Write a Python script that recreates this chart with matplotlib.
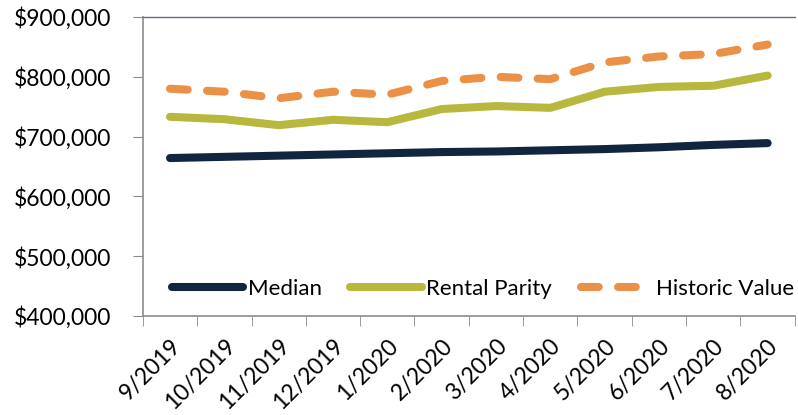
import matplotlib.pyplot as plt
from matplotlib.ticker import FuncFormatter
import numpy as np

months = ["9/2019", "10/2019", "11/2019", "12/2019", "1/2020", "2/2020",
          "3/2020", "4/2020", "5/2020", "6/2020", "7/2020", "8/2020"]
median = [664000, 666000, 668000, 670000, 672000, 674000,
          675000, 677000, 679000, 682000, 686000, 689000]
rental_parity = [733000, 729000, 719000, 728000, 724000, 746000,
                 751000, 748000, 775000, 783000, 785000, 802000]
historic_value = [780000, 775000, 764000, 775000, 770000, 793000,
                  800000, 796000, 824000, 834000, 838000, 854000]

plt.rcParams['font.family'] = ['Lato', 'DejaVu Sans']

fig = plt.figure(figsize=(7.98, 4.15), dpi=100)
ax = fig.add_axes([0.179, 0.239, 0.817, 0.72])

x = np.arange(len(months))
lw = 5.8
ax.plot(x, median, color="#12253F", lw=lw, solid_capstyle="round", label="Median")
ax.plot(x, rental_parity, color="#B8B83E", lw=lw, solid_capstyle="round", label="Rental Parity")
ax.plot(x, historic_value, color="#EB9147", lw=lw, dash_capstyle="round",
        dashes=(2.2, 2.4), label="Historic Value")

ax.set_xlim(-0.5, len(months) - 0.5)
ax.set_ylim(400000, 900000)
ax.set_yticks(np.arange(400000, 900001, 100000))
ax.yaxis.set_major_formatter(FuncFormatter(lambda v, p: f"${v:,.0f}"))

ax.set_xticks(x)
ax.set_xticklabels(months, rotation=45, ha="right", rotation_mode="anchor")
ax.set_xticks(np.arange(-0.5, len(months)), minor=True)
ax.tick_params(axis="x", which="major", length=0, pad=14)
ax.tick_params(axis="x", which="minor", length=7, color="#8C8C8C")
ax.tick_params(axis="y", length=7, color="#8C8C8C", pad=16)
ax.tick_params(labelsize=16.5)

for s in ["left", "bottom"]:
    ax.spines[s].set_color("#8C8C8C")
    ax.spines[s].set_linewidth(1.2)
ax.spines["top"].set_color("#6E6680")
ax.spines["top"].set_linewidth(1)
ax.spines["right"].set_visible(False)

ax.legend(loc="lower center", ncol=3, frameon=False, fontsize=16,
          handlelength=3.2, handletextpad=0.2, columnspacing=1.3,
          bbox_to_anchor=(0.522, -0.01))

fig.savefig("out.png", dpi=100)
